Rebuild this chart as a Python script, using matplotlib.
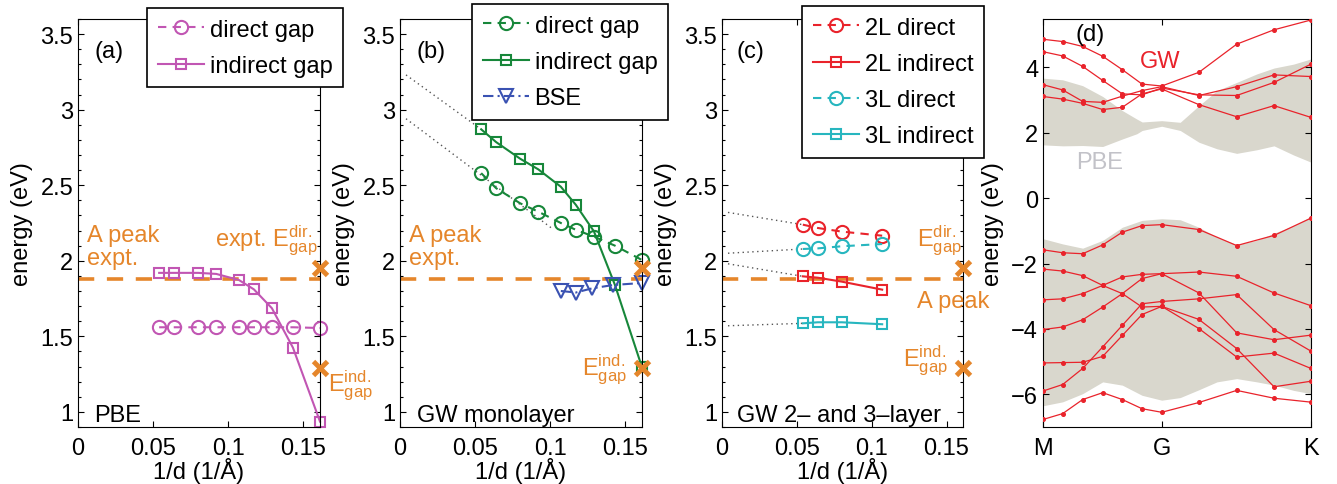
import numpy as np
import matplotlib.pyplot as plt
from matplotlib.ticker import MultipleLocator

plt.rcParams['font.family'] = ['Liberation Sans', 'DejaVu Sans']
plt.rcParams['mathtext.fontset'] = 'custom'
plt.rcParams['mathtext.rm'] = 'Liberation Sans'
plt.rcParams['mathtext.it'] = 'Liberation Sans:italic'
plt.rcParams['font.size'] = 17
plt.rcParams['axes.linewidth'] = 0.8

ORANGE = '#e5862b'
PURPLE = '#c156b3'
GREEN = '#17873a'
BLUE = '#3a52b2'
RED = '#e9232b'
CYAN = '#27b6bf'
PBE_FILL = '#d9d7cd'

# ---- data: gaps vs 1/d ----
inv_d = [0.054, 0.064, 0.080, 0.092, 0.107, 0.117, 0.129, 0.143, 0.161]
pbe_direct = [1.56, 1.56, 1.56, 1.56, 1.56, 1.56, 1.56, 1.56, 1.555]
pbe_indirect = [1.92, 1.92, 1.92, 1.913, 1.873, 1.811, 1.686, 1.425, 0.936]

gw_direct = [2.58, 2.48, 2.38, 2.325, 2.25, 2.205, 2.16, 2.10, 2.005]
gw_indirect = [2.87, 2.785, 2.675, 2.605, 2.49, 2.37, 2.195, 1.84, 1.295]
bse_x = [0.107, 0.117, 0.128, 0.142, 0.161]
bse = [1.80, 1.79, 1.818, 1.84, 1.853]

inv_d_ml = [0.054, 0.064, 0.080, 0.107]
l2_direct = [2.239, 2.217, 2.193, 2.166]
l2_indirect = [1.897, 1.888, 1.862, 1.809]
l3_direct = [2.078, 2.082, 2.096, 2.111]
l3_indirect = [1.586, 1.593, 1.593, 1.580]

# dotted extrapolations to 1/d -> 0 (start, end)
ext_b = [([0.004, 0.054], [3.23, 2.87]), ([0.004, 0.101], [2.94, 2.215])]
ext_c = [([0.004, 0.054], [2.32, 2.239]), ([0.004, 0.054], [2.05, 2.078]),
         ([0.004, 0.054], [1.98, 1.897]), ([0.004, 0.054], [1.57, 1.586])]

x_expt = 0.161
E_dir_expt = 1.95
E_ind_expt = 1.29
A_peak = 1.88

# ---- data: band structure (d) ----
kpts = [0, 0.0735, 0.148, 0.2228, 0.296, 0.3694, 0.443, 0.582, 0.7227, 0.862, 1.0]
gw_cond = [
    [4.86, 4.79, 4.64, 4.34, 3.93, 3.49, 3.43, 3.85, 4.71, 5.15, 5.45],
    [4.48, 4.35, 4.03, 3.60, 3.19, 3.16, 3.37, 3.16, 3.14, 3.54, 4.10],
    [3.47, 3.31, 2.96, 2.93, 3.12, 3.29, 3.41, 3.14, 3.41, 3.77, 3.72],
    [3.11, 3.03, 2.90, 2.71, 2.78, 3.19, 3.34, 2.86, 2.49, 2.83, 2.47],
]
gw_val = [
    [-1.58, -1.67, -1.70, -1.43, -1.04, -0.84, -0.81, -0.96, -1.45, -1.14, -0.61],
    [-2.17, -2.23, -2.37, -2.67, -2.92, -3.33, -3.31, -3.99, -4.86, -4.74, -5.21],
    [-3.11, -3.08, -2.92, -2.67, -2.41, -2.33, -2.31, -2.26, -2.39, -2.90, -3.29],
    [-4.02, -3.94, -3.72, -3.33, -2.92, -2.46, -2.31, -2.90, -4.12, -4.33, -4.19],
    [-5.04, -5.03, -5.02, -4.84, -4.20, -3.56, -3.31, -3.71, -4.60, -5.77, -5.60],
    [-5.90, -5.70, -5.21, -4.55, -3.89, -3.23, -3.16, -3.08, -2.95, -4.02, -4.68],
    [-6.77, -6.59, -6.16, -5.95, -6.16, -6.44, -6.55, -6.25, -5.88, -6.12, -6.24],
]
k_pbe_c = [0, 0.0735, 0.148, 0.2228, 0.296, 0.350, 0.370, 0.443, 0.512, 0.582,
           0.649, 0.7227, 0.798, 0.862, 0.935, 1.0]
pbe_c_top = [3.67, 3.62, 3.44, 3.11, 2.68, 2.42, 2.33, 2.37, 2.32, 2.83,
             3.29, 3.54, 3.80, 3.98, 4.10, 4.26]
pbe_c_bot = [1.63, 1.60, 1.61, 1.58, 1.81, 1.97, 2.07, 2.20, 2.07, 1.71,
             1.51, 1.37, 1.48, 1.60, 1.32, 1.10]
k_pbe_v = [0, 0.0735, 0.148, 0.2228, 0.296, 0.3694, 0.443, 0.512, 0.582, 0.649,
           0.7227, 0.798, 0.862, 0.935, 1.0]
pbe_v_top = [-1.24, -1.40, -1.53, -1.29, -0.89, -0.68, -0.63, -0.66, -0.89, -1.19,
             -1.42, -1.29, -1.07, -0.84, -0.56]
pbe_v_bot = [-6.35, -6.23, -5.98, -5.62, -5.72, -6.03, -6.18, -6.10, -5.86, -5.62,
             -5.52, -5.62, -5.72, -5.88, -5.98]
k_labels = ['M', 'G', 'K']
k_label_pos = [0, 0.443, 1.0]

fig = plt.figure(figsize=(13.37, 4.85), dpi=100)
W, H = 1337, 485
def axpos(l, r, t=20, b=428):
    return [l / W, 1 - b / H, (r - l) / W, (b - t) / H]

ax_a = fig.add_axes(axpos(78, 320))
ax_b = fig.add_axes(axpos(400, 642))
ax_c = fig.add_axes(axpos(722, 963))
ax_d = fig.add_axes(axpos(1043, 1311))

mk = dict(markersize=9.5, markerfacecolor='none', markeredgewidth=1.5, lw=1.5, clip_on=False)
sq = dict(markersize=7.5, markerfacecolor='none', markeredgewidth=1.5, lw=1.5, clip_on=False)
dash = (0, (4, 3))

def gap_axes(ax):
    ax.set_xlim(0, 0.161)
    ax.set_ylim(0.9, 3.6)
    ax.set_xticks([0, 0.05, 0.1, 0.15])
    ax.set_xticklabels(['0', '0.05', '0.1', '0.15'])
    ax.set_yticks([1, 1.5, 2, 2.5, 3, 3.5])
    ax.set_yticklabels(['1', '1.5', '2', '2.5', '3', '3.5'])
    ax.yaxis.set_minor_locator(MultipleLocator(0.1))
    ax.tick_params(which='both', direction='in', top=True, right=True)
    ax.tick_params(which='major', length=4, width=0.8)
    ax.tick_params(which='minor', length=2.5, width=0.8)
    ax.tick_params(axis='x', pad=7.5)
    ax.set_xlabel('1/d (1/Å)', labelpad=-1.5)
    ax.set_ylabel('energy (eV)', labelpad=5)
    ax.axhline(A_peak, color=ORANGE, lw=2.6, ls=(0, (4.5, 3.5)), zorder=1)
    ax.plot([x_expt, x_expt], [E_dir_expt, E_ind_expt], ls='none', marker='x',
            color=ORANGE, markersize=10, markeredgewidth=3.5, clip_on=False, zorder=5)

def sup_e(sup):
    return r'E$^{\mathrm{%s}}_{\mathrm{gap}}$' % sup

leg_kw = dict(loc='upper left', bbox_transform=fig.transFigure, borderaxespad=0,
              fancybox=False, edgecolor='black', framealpha=1, fontsize=17,
              handlelength=1.95, handletextpad=0.25, borderpad=0.45, labelspacing=0.6)

# (a) PBE
gap_axes(ax_a)
ax_a.plot(inv_d, pbe_direct, color=PURPLE, marker='o', ls=dash, label='direct gap', **mk)
ax_a.plot(inv_d, pbe_indirect, color=PURPLE, marker='s', ls='-', label='indirect gap', **sq)
ax_a.text(0.006, 2.094, 'A peak\nexpt.', color=ORANGE, ha='left', va='center', linespacing=1.1)
ax_a.text(0.1595, 2.105, 'expt. ' + sup_e('dir.'), color=ORANGE, ha='right', va='baseline')
ax_a.text(0.166, 1.141, sup_e('ind.'), color=ORANGE, ha='left', va='baseline')
ax_a.text(0.011, 0.942, 'PBE', ha='left', va='baseline')
ax_a.text(0.011, 3.385, '(a)', ha='left', va='center')
lg = ax_a.legend(bbox_to_anchor=(147 / W, 1 - 9 / H), **leg_kw)
lg.get_frame().set_linewidth(1.2)

# (b) GW monolayer
gap_axes(ax_b)
for ex, ey in ext_b:
    ax_b.plot(ex, ey, color='#555555', ls=(0, (1, 2.5)), lw=1.0, zorder=1)
ax_b.plot(inv_d, gw_direct, color=GREEN, marker='o', ls=dash, label='direct gap', **mk)
ax_b.plot(inv_d, gw_indirect, color=GREEN, marker='s', ls='-', label='indirect gap', **sq)
ax_b.plot(bse_x, bse, color=BLUE, marker='v', ls=(0, (5, 2, 1, 2)), label='BSE', **mk)
ax_b.text(0.006, 2.094, 'A peak\nexpt.', color=ORANGE, ha='left', va='center', linespacing=1.1)
ax_b.text(0.1507, 1.245, sup_e('ind.'), color=ORANGE, ha='right', va='baseline')
ax_b.text(0.011, 0.942, 'GW monolayer', ha='left', va='baseline')
ax_b.text(0.011, 3.385, '(b)', ha='left', va='center')
lg = ax_b.legend(bbox_to_anchor=(472 / W, 1 - 5 / H), **leg_kw)
lg.get_frame().set_linewidth(1.2)

# (c) GW 2- and 3-layer
gap_axes(ax_c)
for ex, ey in ext_c:
    ax_c.plot(ex, ey, color='#555555', ls=(0, (1, 2.5)), lw=1.0, zorder=1)
ax_c.plot(inv_d_ml, l2_direct, color=RED, marker='o', ls=dash, label='2L direct', **mk)
ax_c.plot(inv_d_ml, l2_indirect, color=RED, marker='s', ls='-', label='2L indirect', **sq)
ax_c.plot(inv_d_ml, l3_direct, color=CYAN, marker='o', ls=dash, label='3L direct', **mk)
ax_c.plot(inv_d_ml, l3_indirect, color=CYAN, marker='s', ls='-', label='3L indirect', **sq)
ax_c.text(0.130, 2.105, sup_e('dir.'), color=ORANGE, ha='left', va='baseline')
ax_c.text(0.130, 1.694, 'A peak', color=ORANGE, ha='left', va='baseline')
ax_c.text(0.1207, 1.306, sup_e('ind.'), color=ORANGE, ha='left', va='baseline')
ax_c.text(0.010, 0.942, 'GW 2– and 3–layer', ha='left', va='baseline')
ax_c.text(0.010, 3.385, '(c)', ha='left', va='center')
lg = ax_c.legend(bbox_to_anchor=(802 / W, 1 - 7 / H), **leg_kw)
lg.get_frame().set_linewidth(1.2)

# (d) band structure
ax_d.fill_between(k_pbe_c, pbe_c_bot, pbe_c_top, color=PBE_FILL, lw=0, zorder=1)
ax_d.fill_between(k_pbe_v, pbe_v_bot, pbe_v_top, color=PBE_FILL, lw=0, zorder=1)
for band in gw_cond + gw_val:
    ax_d.plot(kpts, band, color=RED, lw=0.9, marker='o', markersize=2.6, zorder=3)
ax_d.set_xlim(0, 1)
ax_d.set_ylim(-7, 5.48)
ax_d.set_xticks(k_label_pos)
ax_d.set_xticklabels(k_labels)
ax_d.set_yticks([-6, -4, -2, 0, 2, 4])
ax_d.tick_params(direction='in', top=True, right=True, length=4, width=0.8)
ax_d.tick_params(axis='x', pad=7.5)
ax_d.set_ylabel('energy (eV)', labelpad=5)
ax_d.text(0.175, 5.02, '(d)', ha='center', va='center')
ax_d.text(0.437, 4.20, 'GW', color=RED, ha='center', va='center')
ax_d.text(0.213, 1.10, 'PBE', color='#c2c2c8', ha='center', va='center')

fig.savefig('out.png', dpi=100)
